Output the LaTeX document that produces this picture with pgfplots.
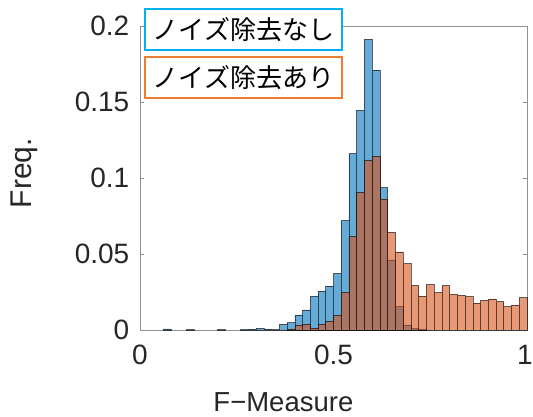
\documentclass[border=0pt]{standalone}
\usepackage{fontspec}
\setmainfont{Noto Sans CJK JP}
\newfontfamily\arialf{Liberation Sans}
\usepackage{pgfplots}
\pgfplotsset{compat=1.18}
\definecolor{mblue}{rgb}{0,0.447,0.741}
\definecolor{morange}{rgb}{0.85,0.325,0.098}
\definecolor{axgray}{HTML}{8F8F8F}
\definecolor{txtgray}{HTML}{262626}
\definecolor{boxblue}{HTML}{00B0F0}
\definecolor{boxorange}{HTML}{ED7D31}
\begin{document}
\begin{tikzpicture}
\useasboundingbox (-140pt,-87pt) rectangle (393pt,330pt);
\begin{axis}[
  at={(0pt,0pt)}, anchor=south west,
  scale only axis, width=387pt, height=304pt,
  xmin=0, xmax=1, ymin=0, ymax=0.2,
  xtick={0,0.5,1}, xticklabels={0,0.5,\makebox[0pt]{\hspace*{-4pt}1}},
  ytick={0,0.05,0.1,0.15,0.2}, yticklabels={0,0.05,0.1,0.15,0.2},
  scaled y ticks=false,
  tick align=inside, major tick length=4pt,
  axis line style={axgray, line width=0.8pt},
  every tick/.style={axgray, line width=0.8pt},
  tick label style={font=\arialf\fontsize{28}{32}\selectfont, text=txtgray, inner sep=0pt},
  xticklabel style={anchor=base, yshift=-35pt},
  yticklabel style={anchor=east, xshift=-10.5pt},
  /pgf/number format/assume math mode=true,
  clip=false,
]
\addplot[ybar, bar width=0.02, bar shift=0pt, fill=mblue, fill opacity=0.6, draw=black, draw opacity=0.6, line width=0.6pt] coordinates {
(0.07,0.0007) (0.13,0.0003) (0.21,0.0003) (0.27,0.0003) (0.29,0.0006)
(0.31,0.001) (0.33,0.0006) (0.35,0.0003) (0.37,0.0037) (0.39,0.0048)
(0.41,0.0099) (0.43,0.0132) (0.45,0.0221) (0.47,0.0257) (0.49,0.0289)
(0.51,0.0372) (0.53,0.0720) (0.55,0.1160) (0.57,0.1445) (0.59,0.1912)
(0.61,0.1709) (0.63,0.0937) (0.65,0.0461) (0.67,0.0154) (0.69,0.0033)
(0.71,0.001) (0.73,0.0005)
};
\addplot[ybar, bar width=0.02, bar shift=0pt, fill=morange, fill opacity=0.6, draw=black, draw opacity=0.6, line width=0.6pt] coordinates {
(0.39,0.0007) (0.41,0.003) (0.43,0.0037) (0.45,0.0012) (0.47,0.0037)
(0.49,0.0059) (0.51,0.0097) (0.53,0.0247) (0.55,0.0614) (0.57,0.0903)
(0.59,0.1115) (0.61,0.1142) (0.63,0.0861) (0.65,0.0643) (0.67,0.0514)
(0.69,0.0437) (0.71,0.0294) (0.73,0.0224) (0.75,0.0299) (0.77,0.0246)
(0.79,0.0292) (0.81,0.0235) (0.83,0.0228) (0.85,0.0220) (0.87,0.0176)
(0.89,0.0195) (0.91,0.0204) (0.93,0.0187) (0.95,0.0154) (0.97,0.0163)
(0.99,0.0213)
};
\end{axis}
\node[rotate=90, anchor=base, inner sep=0pt, text=txtgray, font=\arialf\fontsize{30}{34}\selectfont] at (-108.3pt,157pt) {Freq.};
\node[anchor=base, inner sep=0pt, text=txtgray, font=\arialf\fontsize{27.5}{32}\selectfont] at (143.4pt,-82pt) {F−Measure};
\node[draw=boxblue, line width=2pt, fill=white, minimum width=197pt, minimum height=41pt, inner sep=0pt, font=\fontsize{26}{30}\selectfont] at (103.5pt,300.5pt) {ノイズ除去なし};
\node[draw=boxorange, line width=2pt, fill=white, minimum width=197pt, minimum height=41pt, inner sep=0pt, font=\fontsize{26}{30}\selectfont] at (103.5pt,252pt) {ノイズ除去あり};
\end{tikzpicture}
\end{document}
